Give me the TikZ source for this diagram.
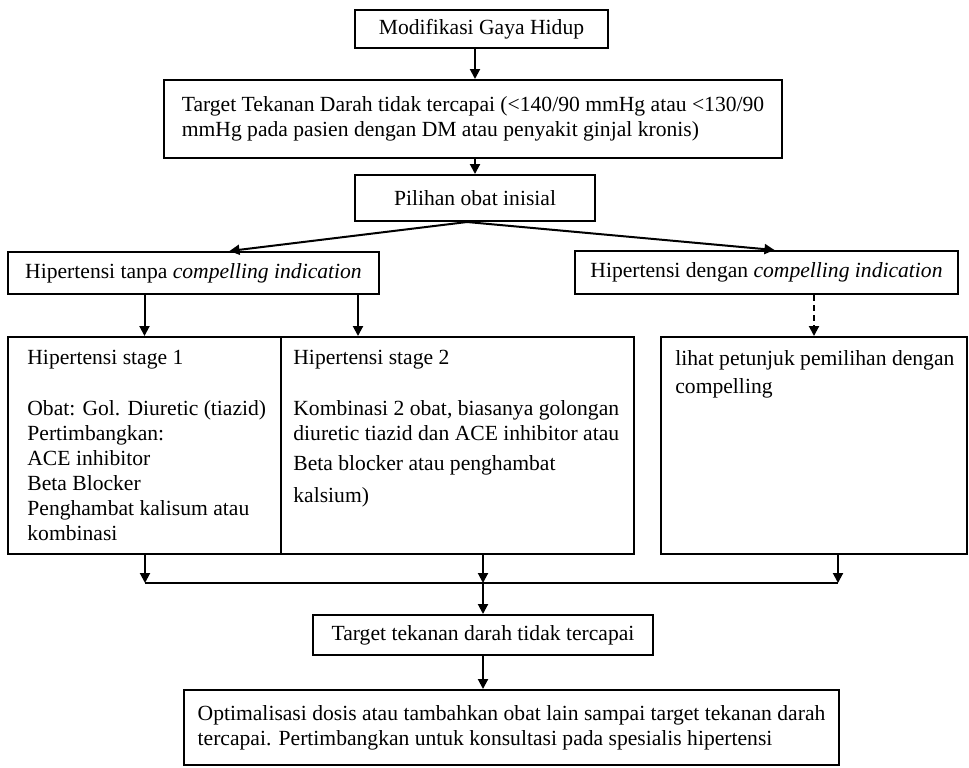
\documentclass[tikz,border=0pt]{standalone}
\usepackage{fontspec}
\setmainfont{Liberation Serif}
\usetikzlibrary{arrows.meta}
\tikzset{
  kotak/.style={draw, line width=1pt, inner sep=0pt, align=center, font=\fontsize{10.8pt}{12.5pt}\selectfont},
  teks/.style={anchor=north west, inner sep=0pt, align=left, font=\fontsize{10.8pt}{12.5pt}\selectfont},
  panah/.style={line width=1pt, -{Triangle[length=5pt,width=5pt]}}
}
\begin{document}
\begin{tikzpicture}[x=0.5pt,y=-0.5pt]
\useasboundingbox (0,0) rectangle (969,767);
\node[kotak, minimum width=126.5pt, minimum height=19pt] (a) at (481.5,29) {Modifikasi Gaya Hidup};
\node[kotak, align=left, minimum width=309pt, minimum height=39pt] (b) at (473,119) {Target Tekanan Darah tidak tercapai (<140/90 mmHg atau <130/90\\mmHg pada pasien dengan DM atau penyakit ginjal kronis)};
\node[kotak, minimum width=120pt, minimum height=23pt] (c) at (475,198) {Pilihan obat inisial};
\node[kotak, minimum width=185.5pt, minimum height=21pt] (d) at (193.5,273) {Hipertensi tanpa \textit{compelling indication}};
\node[kotak, minimum width=191.5pt, minimum height=21.5pt] (e) at (766.5,272.5) {Hipertensi dengan \textit{compelling indication}};
\node[kotak, minimum width=136.5pt, minimum height=108.5pt] (f) at (144.5,445.5) {};
\node[kotak, minimum width=176.5pt, minimum height=108.5pt] (g) at (457.5,445.5) {};
\node[kotak, minimum width=153pt, minimum height=108.5pt] (h) at (814,445.5) {};
\node[teks] (ft) at (27,350) {Hipertensi stage 1\\[13pt]Obat: Gol. Diuretic (tiazid)\\Pertimbangkan:\\ACE inhibitor\\Beta Blocker\\Penghambat kalisum atau\\kombinasi};
\node[teks] (gt) at (293,350) {Hipertensi stage 2\\[13pt]Kombinasi 2 obat, biasanya golongan\\diuretic tiazid dan ACE inhibitor atau\\[2.5pt]Beta blocker atau penghambat\\[3.5pt]kalsium)};
\node[teks] (ht) at (675,350) {lihat petunjuk pemilihan dengan\\[1.5pt]compelling};
\node[kotak, minimum width=170pt, minimum height=20pt] (i) at (483,635) {Target tekanan darah tidak tercapai};
\node[kotak, align=left, minimum width=327.5pt, minimum height=37.5pt] (j) at (511.5,727.5) {Optimalisasi dosis atau tambahkan obat lain sampai target tekanan darah\\tercapai. Pertimbangkan untuk konsultasi pada spesialis hipertensi};
\coordinate (kl) at (145,583);
\coordinate (km) at (483,583);
\coordinate (kr) at (838,583);
\draw[panah] (c.north |- a.south) -- (c.north |- b.north);
\draw[panah] (c.north |- b.south) -- (c.north);
\draw[panah] ([xshift=-4pt]c.south) -- ([xshift=18pt]d.north);
\draw[panah] ([xshift=-4pt]c.south) -- ([xshift=4pt]e.north);
\draw[panah] (d.south -| f.north) -- (f.north);
\draw[panah] ([xshift=-11pt]d.south east) -- ([xshift=-11pt]d.south east |- g.north);
\draw[panah, densely dashed] (e.south -| h.north) -- (h.north);
\draw[panah] (f.south -| kl) -- (kl);
\draw[panah] (g.south -| km) -- (km);
\draw[panah] (h.south -| kr) -- (kr);
\draw[line width=1pt] (kl) -- (kr);
\draw[panah] (km) -- (i.north);
\draw[panah] (i.south) -- (i.south |- j.north);
\end{tikzpicture}
\end{document}
